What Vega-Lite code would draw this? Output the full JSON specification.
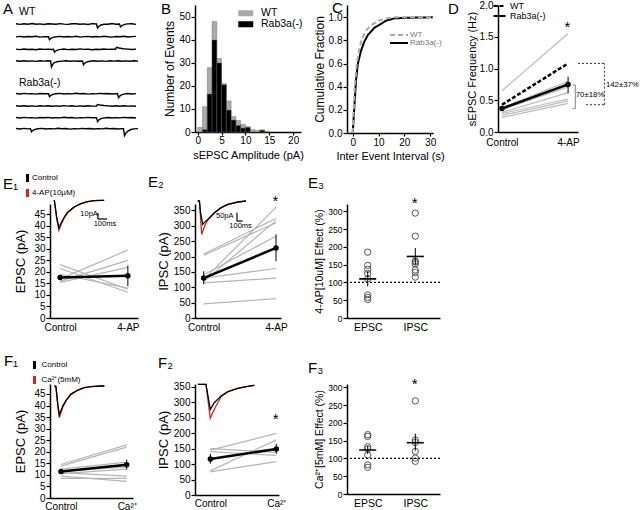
{
"$schema": "https://vega.github.io/schema/vega-lite/v6.json",
"padding": {"left": 2, "top": 0, "right": 2, "bottom": 2},
"background": "white",
"bounds": "flush",
"align": "each",
"spacing": 0,
"columns": 8,
"config": {
  "font": "Liberation Sans",
  "view": {"stroke": null},
  "axis": {"grid": false, "domainColor": "#000", "domainWidth": 1.5, "tickColor": "#000", "tickWidth": 1.2, "tickSize": 4, "labelColor": "#000", "labelFontSize": 10, "labelFont": "Liberation Sans", "titleFont": "Liberation Sans", "titleFontWeight": "normal", "titleColor": "#000", "titleFontSize": 12, "labelPadding": 1, "titlePadding": 3, "labelFlush": false, "labelOverlap": false},
  "legend": {"labelFont": "Liberation Sans", "labelColor": "#000", "padding": 0},
  "text": {"font": "Liberation Sans"}
},
"resolve": {"scale": {"color": "independent", "strokeDash": "independent"}, "legend": {"color": "independent", "strokeDash": "independent"}},
"concat": [
  {
   "width": 34, "height": 130,
   "layer": [
    {"data": {"values": [
{"s":"w1","t":0,"v":0.3},{"s":"w1","t":4,"v":-0.4},{"s":"w1","t":8,"v":0.2},{"s":"w1","t":12,"v":-0.2},{"s":"w1","t":16,"v":0.5},{"s":"w1","t":20,"v":-0.3},{"s":"w1","t":24,"v":0.1},{"s":"w1","t":28,"v":-0.5},{"s":"w1","t":32,"v":0.3},{"s":"w1","t":36,"v":0},{"s":"w1","t":40,"v":-0.3},{"s":"w1","t":44,"v":0.4},{"s":"w1","t":48,"v":-0.1},{"s":"w1","t":52,"v":-0.4},{"s":"w1","t":56,"v":0.2},{"s":"w1","t":60,"v":0.3},{"s":"w1","t":64,"v":-0.2},{"s":"w1","t":68,"v":0.1},{"s":"w1","t":72,"v":-0.5},{"s":"w1","t":76,"v":0.4},{"s":"w1","t":80.5,"v":0},{"s":"w1","t":81.5,"v":-4},{"s":"w1","t":83,"v":-2.2},{"s":"w1","t":85,"v":-1},{"s":"w1","t":88,"v":-0.2},{"s":"w1","t":92,"v":-0.3},{"s":"w1","t":96,"v":0.5},{"s":"w1","t":100,"v":-0.2},{"s":"w1","t":103.5,"v":0},{"s":"w1","t":104.5,"v":-3},{"s":"w1","t":106,"v":-1.6},{"s":"w1","t":108,"v":-0.7},{"s":"w1","t":111,"v":0.1},{"s":"w1","t":116,"v":0.3},{"s":"w1","t":120,"v":-0.4},
{"s":"w2","t":0,"v":-12.9},{"s":"w2","t":4,"v":-12.4},{"s":"w2","t":8,"v":-13},{"s":"w2","t":12,"v":-12.5},{"s":"w2","t":16,"v":-12.8},{"s":"w2","t":20,"v":-12.3},{"s":"w2","t":24,"v":-13.1},{"s":"w2","t":28,"v":-12.6},{"s":"w2","t":32.5,"v":-12.7},{"s":"w2","t":33.5,"v":-15.7},{"s":"w2","t":35,"v":-14.3},{"s":"w2","t":37,"v":-13.4},{"s":"w2","t":40,"v":-12.8},{"s":"w2","t":44,"v":-12.4},{"s":"w2","t":48,"v":-13},{"s":"w2","t":52,"v":-12.5},{"s":"w2","t":56,"v":-12.9},{"s":"w2","t":60,"v":-12.3},{"s":"w2","t":64,"v":-13.1},{"s":"w2","t":68,"v":-12.6},{"s":"w2","t":72,"v":-12.4},{"s":"w2","t":76,"v":-13},{"s":"w2","t":80,"v":-12.5},{"s":"w2","t":84,"v":-12.9},{"s":"w2","t":88,"v":-12.2},{"s":"w2","t":92,"v":-12.8},{"s":"w2","t":96,"v":-13.1},{"s":"w2","t":100,"v":-12.5},{"s":"w2","t":104,"v":-12.7},{"s":"w2","t":108,"v":-12.3},{"s":"w2","t":112,"v":-13},{"s":"w2","t":116,"v":-12.6},{"s":"w2","t":120,"v":-12.4},
{"s":"w3","t":0,"v":-25.1},{"s":"w3","t":4,"v":-25.6},{"s":"w3","t":8,"v":-25},{"s":"w3","t":12,"v":-25.5},{"s":"w3","t":16,"v":-25.2},{"s":"w3","t":20,"v":-25.7},{"s":"w3","t":24,"v":-25},{"s":"w3","t":28,"v":-25.4},{"s":"w3","t":32,"v":-25.1},{"s":"w3","t":36,"v":-25.5},{"s":"w3","t":37.5,"v":-25.3},{"s":"w3","t":38.5,"v":-28.3},{"s":"w3","t":40,"v":-26.8},{"s":"w3","t":42,"v":-25.9},{"s":"w3","t":45,"v":-25.4},{"s":"w3","t":48,"v":-25},{"s":"w3","t":52,"v":-25.6},{"s":"w3","t":56,"v":-25.2},{"s":"w3","t":60,"v":-25.5},{"s":"w3","t":64,"v":-24.9},{"s":"w3","t":68,"v":-25.4},{"s":"w3","t":72,"v":-25.1},{"s":"w3","t":76,"v":-25.7},{"s":"w3","t":80,"v":-25.2},{"s":"w3","t":84,"v":-25.5},{"s":"w3","t":88,"v":-25},{"s":"w3","t":92,"v":-25.4},{"s":"w3","t":96,"v":-25.2},{"s":"w3","t":99.5,"v":-25.3},{"s":"w3","t":100.5,"v":-23.3},{"s":"w3","t":103,"v":-24},{"s":"w3","t":107,"v":-24.7},{"s":"w3","t":112,"v":-25.1},{"s":"w3","t":116,"v":-25.5},{"s":"w3","t":120,"v":-25.1},
{"s":"w4","t":0,"v":-36.8},{"s":"w4","t":4,"v":-37.3},{"s":"w4","t":8,"v":-36.7},{"s":"w4","t":12,"v":-37.2},{"s":"w4","t":16,"v":-36.9},{"s":"w4","t":20,"v":-37.4},{"s":"w4","t":24,"v":-36.8},{"s":"w4","t":28,"v":-37.1},{"s":"w4","t":32,"v":-36.7},{"s":"w4","t":34.5,"v":-37},{"s":"w4","t":35.5,"v":-43},{"s":"w4","t":37,"v":-40},{"s":"w4","t":39,"v":-38.3},{"s":"w4","t":42,"v":-37.5},{"s":"w4","t":46,"v":-37.1},{"s":"w4","t":50,"v":-36.7},{"s":"w4","t":54,"v":-37.3},{"s":"w4","t":58,"v":-36.9},{"s":"w4","t":62,"v":-37.2},{"s":"w4","t":66.5,"v":-37},{"s":"w4","t":67.5,"v":-41},{"s":"w4","t":69,"v":-39},{"s":"w4","t":71,"v":-37.9},{"s":"w4","t":74,"v":-37.2},{"s":"w4","t":78,"v":-36.8},{"s":"w4","t":82,"v":-37.3},{"s":"w4","t":86,"v":-36.9},{"s":"w4","t":90,"v":-37.4},{"s":"w4","t":94,"v":-36.8},{"s":"w4","t":98,"v":-37.1},{"s":"w4","t":102,"v":-36.7},{"s":"w4","t":106,"v":-37.3},{"s":"w4","t":110,"v":-36.9},{"s":"w4","t":114,"v":-37.2},{"s":"w4","t":118,"v":-36.8},{"s":"w4","t":122,"v":-37.1},
{"s":"r1","t":0,"v":-69.5},{"s":"r1","t":4,"v":-70},{"s":"r1","t":8,"v":-69.4},{"s":"r1","t":12,"v":-69.9},{"s":"r1","t":16,"v":-69.6},{"s":"r1","t":20,"v":-70.1},{"s":"r1","t":24,"v":-69.5},{"s":"r1","t":28,"v":-69.8},{"s":"r1","t":32.5,"v":-69.7},{"s":"r1","t":33.5,"v":-72.7},{"s":"r1","t":35,"v":-71.3},{"s":"r1","t":37,"v":-70.4},{"s":"r1","t":40,"v":-69.8},{"s":"r1","t":44,"v":-69.4},{"s":"r1","t":48,"v":-70},{"s":"r1","t":52,"v":-69.6},{"s":"r1","t":56,"v":-69.9},{"s":"r1","t":60,"v":-69.3},{"s":"r1","t":64,"v":-69.8},{"s":"r1","t":68,"v":-69.5},{"s":"r1","t":72,"v":-70.1},{"s":"r1","t":76,"v":-69.6},{"s":"r1","t":80,"v":-69.9},{"s":"r1","t":84,"v":-69.4},{"s":"r1","t":88,"v":-69.8},{"s":"r1","t":92,"v":-69.5},{"s":"r1","t":96,"v":-70},{"s":"r1","t":100,"v":-69.6},{"s":"r1","t":101.5,"v":-69.7},{"s":"r1","t":102.5,"v":-73.7},{"s":"r1","t":104,"v":-71.8},{"s":"r1","t":106,"v":-70.6},{"s":"r1","t":109,"v":-69.9},{"s":"r1","t":112,"v":-69.5},{"s":"r1","t":116,"v":-70},{"s":"r1","t":120,"v":-69.6},
{"s":"r2","t":0,"v":-81.8},{"s":"r2","t":4,"v":-82.3},{"s":"r2","t":8,"v":-81.7},{"s":"r2","t":12,"v":-82.2},{"s":"r2","t":16,"v":-81.9},{"s":"r2","t":20,"v":-82.4},{"s":"r2","t":24,"v":-81.8},{"s":"r2","t":28,"v":-82.1},{"s":"r2","t":32,"v":-81.7},{"s":"r2","t":36,"v":-82.3},{"s":"r2","t":40,"v":-81.9},{"s":"r2","t":44,"v":-82.2},{"s":"r2","t":48,"v":-81.6},{"s":"r2","t":52,"v":-82.1},{"s":"r2","t":56,"v":-81.8},{"s":"r2","t":60,"v":-82.4},{"s":"r2","t":64,"v":-81.9},{"s":"r2","t":68,"v":-82.2},{"s":"r2","t":72,"v":-81.7},{"s":"r2","t":76,"v":-82.1},{"s":"r2","t":80.5,"v":-82},{"s":"r2","t":81.5,"v":-80.5},{"s":"r2","t":84,"v":-81},{"s":"r2","t":88,"v":-81.5},{"s":"r2","t":92,"v":-81.9},{"s":"r2","t":96,"v":-82.3},{"s":"r2","t":100,"v":-81.8},{"s":"r2","t":104,"v":-82.2},{"s":"r2","t":108,"v":-81.7},{"s":"r2","t":112,"v":-82.1},{"s":"r2","t":116,"v":-81.9},{"s":"r2","t":120,"v":-82.3},
{"s":"r3","t":0,"v":-93.5},{"s":"r3","t":4,"v":-94},{"s":"r3","t":8,"v":-93.4},{"s":"r3","t":12,"v":-93.9},{"s":"r3","t":16,"v":-93.6},{"s":"r3","t":20,"v":-94.1},{"s":"r3","t":24,"v":-93.5},{"s":"r3","t":28,"v":-93.8},{"s":"r3","t":32,"v":-93.4},{"s":"r3","t":36,"v":-94},{"s":"r3","t":40,"v":-93.6},{"s":"r3","t":44,"v":-93.9},{"s":"r3","t":48,"v":-93.3},{"s":"r3","t":52,"v":-93.8},{"s":"r3","t":56,"v":-93.5},{"s":"r3","t":60,"v":-94.1},{"s":"r3","t":64,"v":-93.6},{"s":"r3","t":68,"v":-93.9},{"s":"r3","t":72,"v":-93.4},{"s":"r3","t":76,"v":-93.8},{"s":"r3","t":80.5,"v":-93.7},{"s":"r3","t":81.5,"v":-97.7},{"s":"r3","t":83,"v":-95.8},{"s":"r3","t":85,"v":-94.6},{"s":"r3","t":88,"v":-93.9},{"s":"r3","t":92,"v":-93.5},{"s":"r3","t":96,"v":-94},{"s":"r3","t":100,"v":-93.6},{"s":"r3","t":104,"v":-93.9},{"s":"r3","t":108,"v":-93.4},{"s":"r3","t":112,"v":-93.8},{"s":"r3","t":116,"v":-93.5},{"s":"r3","t":120,"v":-94},
{"s":"r4","t":0,"v":-104.5},{"s":"r4","t":4,"v":-105},{"s":"r4","t":8,"v":-104.4},{"s":"r4","t":12,"v":-104.9},{"s":"r4","t":14.5,"v":-104.7},{"s":"r4","t":15.5,"v":-107.7},{"s":"r4","t":17,"v":-106.3},{"s":"r4","t":19,"v":-105.4},{"s":"r4","t":22,"v":-104.8},{"s":"r4","t":26,"v":-104.4},{"s":"r4","t":30,"v":-105},{"s":"r4","t":34,"v":-104.6},{"s":"r4","t":38,"v":-104.9},{"s":"r4","t":42,"v":-104.3},{"s":"r4","t":46,"v":-104.8},{"s":"r4","t":50,"v":-104.5},{"s":"r4","t":54,"v":-105.1},{"s":"r4","t":58,"v":-104.6},{"s":"r4","t":62,"v":-104.9},{"s":"r4","t":66,"v":-104.4},{"s":"r4","t":70,"v":-104.8},{"s":"r4","t":74,"v":-104.5},{"s":"r4","t":78,"v":-105},{"s":"r4","t":82,"v":-104.6},{"s":"r4","t":86,"v":-104.9},{"s":"r4","t":90,"v":-104.3},{"s":"r4","t":94,"v":-104.8},{"s":"r4","t":98,"v":-104.5},{"s":"r4","t":102,"v":-105},{"s":"r4","t":106,"v":-104.6},{"s":"r4","t":107.5,"v":-104.7},{"s":"r4","t":108.5,"v":-111.7},{"s":"r4","t":110,"v":-109},{"s":"r4","t":112,"v":-107},{"s":"r4","t":115,"v":-105.5},{"s":"r4","t":118,"v":-104.9},{"s":"r4","t":122,"v":-104.6}
    ]},
     "mark": {"type": "line", "color": "#000", "strokeWidth": 1.4},
     "encoding": {
       "x": {"field": "t", "type": "quantitative", "scale": {"domain": [0, 34], "nice": false, "zero": false}, "axis": null},
       "y": {"field": "v", "type": "quantitative", "scale": {"domain": [-111, 19], "nice": false, "zero": false}, "axis": null},
       "detail": {"field": "s", "type": "nominal"}}},
    {"data": {"values": [{"t": 3, "v": 12, "label": "WT"}, {"t": 3, "v": -59, "label": "Rab3a(-)"}]},
     "mark": {"type": "text", "align": "left", "baseline": "middle", "fontSize": 10.5, "color": "#000"},
     "encoding": {"x": {"field": "t", "type": "quantitative", "axis": null}, "y": {"field": "v", "type": "quantitative", "axis": null}, "text": {"field": "label"}}},
    {"data": {"values": [{"t": -13, "v": 10, "label": "A"}]},
     "mark": {"type": "text", "align": "left", "baseline": "alphabetic", "fontSize": 15, "color": "#000"},
     "encoding": {"x": {"field": "t", "type": "quantitative", "axis": null}, "y": {"field": "v", "type": "quantitative", "axis": null}, "text": {"field": "label"}}}
   ]
  },
  {"width": 1, "height": 1, "data": {"values": []}, "mark": "point", "encoding": {}},
  {"width": 57, "height": 1, "data": {"values": []}, "mark": "point", "encoding": {}},
  {
   "width": 106, "height": 127,
   "layer": [
    {"data": {"values": [
{"b":0,"b2":1,"g":"WT","n":2},{"b":1,"b2":2,"g":"WT","n":11},{"b":2,"b2":3,"g":"WT","n":28},{"b":3,"b2":4,"g":"WT","n":48},{"b":4,"b2":5,"g":"WT","n":32},{"b":5,"b2":6,"g":"WT","n":21},{"b":6,"b2":7,"g":"WT","n":13.5},{"b":7,"b2":8,"g":"WT","n":6.7},{"b":8,"b2":9,"g":"WT","n":5},{"b":9,"b2":10,"g":"WT","n":3.3},{"b":10,"b2":11,"g":"WT","n":2.3},{"b":11,"b2":12,"g":"WT","n":1},{"b":12,"b2":13,"g":"WT","n":0.7},{"b":13,"b2":14,"g":"WT","n":1},{"b":14,"b2":15,"g":"WT","n":0.4},
{"b":1,"b2":2,"g":"Rab3a(-)","n":1},{"b":2,"b2":3,"g":"Rab3a(-)","n":16.5},{"b":3,"b2":4,"g":"Rab3a(-)","n":40},{"b":4,"b2":5,"g":"Rab3a(-)","n":30},{"b":5,"b2":6,"g":"Rab3a(-)","n":20.5},{"b":6,"b2":7,"g":"Rab3a(-)","n":9.5},{"b":7,"b2":8,"g":"Rab3a(-)","n":5.2},{"b":8,"b2":9,"g":"Rab3a(-)","n":2.8},{"b":9,"b2":10,"g":"Rab3a(-)","n":1.7},{"b":10,"b2":11,"g":"Rab3a(-)","n":2},{"b":13,"b2":14,"g":"Rab3a(-)","n":0.7}
     ]},
     "mark": {"type": "bar", "stroke": "#666", "strokeWidth": 0.4},
     "encoding": {
       "x": {"field": "b", "type": "quantitative", "scale": {"domain": [-0.57, 21.65], "nice": false, "zero": false}, "axis": {"values": [0, 5, 10, 15, 20], "title": "sEPSC Amplitude (pA)", "titleFontSize": 11, "tickSize": 3, "labelPadding": 0, "titlePadding": 4, "labelOverlap": false}},
       "x2": {"field": "b2"},
       "y": {"field": "n", "type": "quantitative", "stack": null, "scale": {"domain": [0, 55.2], "nice": false}, "axis": {"values": [0, 10, 20, 30, 40, 50], "title": "Number of Events", "titlePadding": 2, "labelOverlap": false}},
       "y2": {"datum": 0},
       "color": {"field": "g", "type": "nominal", "scale": {"domain": ["WT", "Rab3a(-)"], "range": ["#aaaaaa", "#000000"]}, "legend": {"title": null, "orient": "none", "legendX": 45.5, "legendY": 3, "symbolType": "M-2.5,-1H2.5V1H-2.5Z", "symbolSize": 36, "symbolStrokeWidth": 0, "labelFontSize": 10.5, "labelOffset": 10, "rowPadding": 0}}
     }},
    {"data": {"values": [{"b": -7.69, "n": 51.3, "label": "B"}]},
     "mark": {"type": "text", "align": "left", "baseline": "alphabetic", "fontSize": 15, "color": "#000"},
     "encoding": {
       "x": {"field": "b", "type": "quantitative", "axis": {"values": [0, 5, 10, 15, 20], "title": "sEPSC Amplitude (pA)", "titleFontSize": 11, "tickSize": 3, "labelPadding": 0, "titlePadding": 4, "labelOverlap": false}},
       "y": {"field": "n", "type": "quantitative", "axis": {"values": [0, 10, 20, 30, 40, 50], "title": "Number of Events", "titlePadding": 2, "labelOverlap": false}},
       "text": {"field": "label"}}}
   ]
  },
  {"width": 46, "height": 1, "data": {"values": []}, "mark": "point", "encoding": {}},
  {
   "width": 86, "height": 128,
   "layer": [
    {"data": {"values": [
{"g":"Rab3a(-)","x":0,"y":0},{"g":"Rab3a(-)","x":0.3,"y":0.1},{"g":"Rab3a(-)","x":0.7,"y":0.25},{"g":"Rab3a(-)","x":1.3,"y":0.46},{"g":"Rab3a(-)","x":2,"y":0.6},{"g":"Rab3a(-)","x":3.2,"y":0.71},{"g":"Rab3a(-)","x":4.5,"y":0.79},{"g":"Rab3a(-)","x":6,"y":0.85},{"g":"Rab3a(-)","x":8.4,"y":0.91},{"g":"Rab3a(-)","x":10,"y":0.93},{"g":"Rab3a(-)","x":12.9,"y":0.97},{"g":"Rab3a(-)","x":16,"y":0.99},{"g":"Rab3a(-)","x":20,"y":0.995},{"g":"Rab3a(-)","x":31,"y":1},
{"g":"WT","x":0,"y":0},{"g":"WT","x":0.3,"y":0.15},{"g":"WT","x":0.8,"y":0.4},{"g":"WT","x":1.5,"y":0.58},{"g":"WT","x":2.5,"y":0.72},{"g":"WT","x":3.5,"y":0.81},{"g":"WT","x":5,"y":0.88},{"g":"WT","x":7,"y":0.93},{"g":"WT","x":10,"y":0.97},{"g":"WT","x":13,"y":0.99},{"g":"WT","x":16,"y":1},{"g":"WT","x":31,"y":1}
     ]},
     "mark": {"type": "line", "strokeWidth": 2},
     "encoding": {
       "x": {"field": "x", "type": "quantitative", "scale": {"domain": [-2.21, 31.1], "nice": false, "zero": false}, "axis": {"values": [0, 10, 20, 30], "title": "Inter Event Interval (s)", "titleFontSize": 11, "tickSize": 3, "labelPadding": 1, "titlePadding": 3, "labelOverlap": false}},
       "y": {"field": "y", "type": "quantitative", "scale": {"domain": [0, 1.106], "nice": false}, "axis": {"values": [0, 0.2, 0.4, 0.6, 0.8, 1], "format": ".1f", "title": "Cumulative Fraction", "titlePadding": 2, "labelOverlap": false}},
       "color": {"field": "g", "type": "nominal", "scale": {"domain": ["WT", "Rab3a(-)"], "range": ["#aaaaaa", "#000000"]}, "legend": {"title": null, "orient": "none", "legendX": 48, "legendY": 26, "symbolType": "M-3,0H3", "symbolSize": 36, "symbolStrokeWidth": 2, "labelFontSize": 8, "labelColor": "#777", "labelOffset": 7, "rowPadding": 0}},
       "strokeDash": {"field": "g", "type": "nominal", "scale": {"domain": ["WT", "Rab3a(-)"], "range": [[5, 3], [1, 0]]}, "legend": {"title": null, "orient": "none", "legendX": 48, "legendY": 26, "symbolType": "M-3,0H3", "symbolSize": 36, "symbolStrokeWidth": 2, "labelFontSize": 8, "labelColor": "#777", "labelOffset": 7, "rowPadding": 0}}
     }},
    {"data": {"values": [{"x": -8.0, "y": 1.04, "label": "C"}]},
     "mark": {"type": "text", "align": "left", "baseline": "alphabetic", "fontSize": 15, "color": "#000"},
     "encoding": {
       "x": {"field": "x", "type": "quantitative", "axis": {"values": [0, 10, 20, 30], "title": "Inter Event Interval (s)", "titleFontSize": 11, "tickSize": 3, "labelPadding": 1, "titlePadding": 3, "labelOverlap": false}},
       "y": {"field": "y", "type": "quantitative", "axis": {"values": [0, 0.2, 0.4, 0.6, 0.8, 1], "format": ".1f", "title": "Cumulative Fraction", "titlePadding": 2, "labelOverlap": false}},
       "text": {"field": "label"}}}
   ]
  },
  {"width": 58, "height": 1, "data": {"values": []}, "mark": "point", "encoding": {}},
  {
   "width": 80, "height": 127,
   "layer": [
    {"data": {"values": [
{"c":1,"x":0,"y":0.65},{"c":1,"x":1,"y":1.55},{"c":2,"x":0,"y":0.38},{"c":2,"x":1,"y":0.8},{"c":3,"x":0,"y":0.35},{"c":3,"x":1,"y":0.71},{"c":4,"x":0,"y":0.31},{"c":4,"x":1,"y":0.62},{"c":5,"x":0,"y":0.29},{"c":5,"x":1,"y":0.52},{"c":6,"x":0,"y":0.26},{"c":6,"x":1,"y":0.49},{"c":7,"x":0,"y":0.23},{"c":7,"x":1,"y":0.45}
     ]},
     "mark": {"type": "line", "color": "#bbbbbb", "strokeWidth": 1.2},
     "encoding": {
       "x": {"field": "x", "type": "quantitative", "scale": {"domain": [-0.06, 1.15], "nice": false, "zero": false}, "axis": {"values": [0, 1], "labelExpr": "datum.value == 0 ? 'Control' : '4-AP'", "ticks": false, "title": null, "labelPadding": 5, "labelOverlap": false}},
       "y": {"field": "y", "type": "quantitative", "scale": {"domain": [0, 2], "nice": false}, "axis": {"values": [0, 0.5, 1, 1.5, 2], "format": ".1f", "title": "sEPSC Frequency (Hz)", "titleFontSize": 11, "titlePadding": 2, "labelOverlap": false}},
       "detail": {"field": "c", "type": "nominal"}}},
    {"data": {"values": [{"g":"WT","x":0,"y":0.43},{"g":"WT","x":1,"y":1.08},{"g":"Rab3a(-)","x":0,"y":0.37},{"g":"Rab3a(-)","x":1,"y":0.75}]},
     "mark": {"type": "line", "color": "#000", "strokeWidth": 2.5},
     "encoding": {
       "x": {"field": "x", "type": "quantitative", "axis": {"values": [0, 1], "labelExpr": "datum.value == 0 ? 'Control' : '4-AP'", "ticks": false, "title": null, "labelPadding": 5, "labelOverlap": false}},
       "y": {"field": "y", "type": "quantitative", "axis": {"values": [0, 0.5, 1, 1.5, 2], "format": ".1f", "title": "sEPSC Frequency (Hz)", "titleFontSize": 11, "titlePadding": 2, "labelOverlap": false}},
       "strokeDash": {"field": "g", "type": "nominal", "scale": {"domain": ["WT", "Rab3a(-)"], "range": [[4, 2], [1, 0]]}, "legend": {"title": null, "orient": "none", "legendX": -3, "legendY": -3.5, "symbolType": "M-2,0H2", "symbolSize": 36, "symbolStrokeWidth": 2, "symbolStrokeColor": "#000", "labelFontSize": 9, "labelOffset": 6, "rowPadding": 0}}}},
    {"data": {"values": [{"x":0,"lo":0.34,"hi":0.4},{"x":1,"lo":0.61,"hi":0.87}]},
     "mark": {"type": "rule", "color": "#000", "strokeWidth": 1},
     "encoding": {
       "x": {"field": "x", "type": "quantitative", "axis": {"values": [0, 1], "labelExpr": "datum.value == 0 ? 'Control' : '4-AP'", "ticks": false, "title": null, "labelPadding": 5, "labelOverlap": false}},
       "y": {"field": "lo", "type": "quantitative", "axis": {"values": [0, 0.5, 1, 1.5, 2], "format": ".1f", "title": "sEPSC Frequency (Hz)", "titleFontSize": 11, "titlePadding": 2, "labelOverlap": false}},
       "y2": {"field": "hi"}}},
    {"data": {"values": [{"x":0,"y":0.37},{"x":1,"y":0.75}]},
     "mark": {"type": "point", "filled": true, "color": "#000", "size": 30, "opacity": 1},
     "encoding": {
       "x": {"field": "x", "type": "quantitative", "axis": {"values": [0, 1], "labelExpr": "datum.value == 0 ? 'Control' : '4-AP'", "ticks": false, "title": null, "labelPadding": 5, "labelOverlap": false}},
       "y": {"field": "y", "type": "quantitative", "axis": {"values": [0, 0.5, 1, 1.5, 2], "format": ".1f", "title": "sEPSC Frequency (Hz)", "titleFontSize": 11, "titlePadding": 2, "labelOverlap": false}}}},
    {"data": {"values": [{"x":1.07,"x2":1.11,"y":0.74,"y2":0.74},{"x":1.11,"x2":1.11,"y":0.37,"y2":0.74},{"x":1.07,"x2":1.11,"y":0.37,"y2":0.37}]},
     "mark": {"type": "rule", "color": "#999", "strokeWidth": 1.2},
     "encoding": {
       "x": {"field": "x", "type": "quantitative", "axis": {"values": [0, 1], "labelExpr": "datum.value == 0 ? 'Control' : '4-AP'", "ticks": false, "title": null, "labelPadding": 5, "labelOverlap": false}},
       "x2": {"field": "x2"},
       "y": {"field": "y", "type": "quantitative", "axis": {"values": [0, 0.5, 1, 1.5, 2], "format": ".1f", "title": "sEPSC Frequency (Hz)", "titleFontSize": 11, "titlePadding": 2, "labelOverlap": false}},
       "y2": {"field": "y2"}}},
    {"data": {"values": [{"x":1.15,"x2":1.55,"y":1.08,"y2":1.08},{"x":1.55,"x2":1.55,"y":0.43,"y2":1.08},{"x":1.27,"x2":1.55,"y":0.43,"y2":0.43}]},
     "mark": {"type": "rule", "color": "#333", "strokeWidth": 1, "strokeDash": [2, 2]},
     "encoding": {
       "x": {"field": "x", "type": "quantitative", "axis": {"values": [0, 1], "labelExpr": "datum.value == 0 ? 'Control' : '4-AP'", "ticks": false, "title": null, "labelPadding": 5, "labelOverlap": false}},
       "x2": {"field": "x2"},
       "y": {"field": "y", "type": "quantitative", "axis": {"values": [0, 0.5, 1, 1.5, 2], "format": ".1f", "title": "sEPSC Frequency (Hz)", "titleFontSize": 11, "titlePadding": 2, "labelOverlap": false}},
       "y2": {"field": "y2"}}},
    {"data": {"values": [{"x":1.116,"y":0.58,"label":"70±18%"},{"x":1.572,"y":0.74,"label":"142±37%"}]},
     "mark": {"type": "text", "align": "left", "baseline": "middle", "fontSize": 7.8, "color": "#000"},
     "encoding": {
       "x": {"field": "x", "type": "quantitative", "axis": {"values": [0, 1], "labelExpr": "datum.value == 0 ? 'Control' : '4-AP'", "ticks": false, "title": null, "labelPadding": 5, "labelOverlap": false}},
       "y": {"field": "y", "type": "quantitative", "axis": {"values": [0, 0.5, 1, 1.5, 2], "format": ".1f", "title": "sEPSC Frequency (Hz)", "titleFontSize": 11, "titlePadding": 2, "labelOverlap": false}},
       "text": {"field": "label"}}},
    {"data": {"values": [{"x":0.947,"y":1.567,"label":"*"},{"x":-0.818,"y":1.858,"label":"D"}]},
     "mark": {"type": "text", "align": "left", "baseline": "alphabetic", "fontSize": 15, "color": "#000"},
     "encoding": {
       "x": {"field": "x", "type": "quantitative", "axis": {"values": [0, 1], "labelExpr": "datum.value == 0 ? 'Control' : '4-AP'", "ticks": false, "title": null, "labelPadding": 5, "labelOverlap": false}},
       "y": {"field": "y", "type": "quantitative", "axis": {"values": [0, 0.5, 1, 1.5, 2], "format": ".1f", "title": "sEPSC Frequency (Hz)", "titleFontSize": 11, "titlePadding": 2, "labelOverlap": false}},
       "text": {"field": "label"}}}
   ]
  },

  {"width": 1, "height": 69, "data": {"values": []}, "mark": "point", "encoding": {}},
  {"width": 1, "height": 1, "data": {"values": []}, "mark": "point", "encoding": {}},
  {"width": 1, "height": 1, "data": {"values": []}, "mark": "point", "encoding": {}},
  {"width": 1, "height": 1, "data": {"values": []}, "mark": "point", "encoding": {}},
  {"width": 1, "height": 1, "data": {"values": []}, "mark": "point", "encoding": {}},
  {"width": 1, "height": 1, "data": {"values": []}, "mark": "point", "encoding": {}},
  {"width": 1, "height": 1, "data": {"values": []}, "mark": "point", "encoding": {}},
  {"width": 1, "height": 1, "data": {"values": []}, "mark": "point", "encoding": {}},

  {"width": 1, "height": 1, "data": {"values": []}, "mark": "point", "encoding": {}},
  {
   "width": 88, "height": 114,
   "layer": [
    {"layer": [
      {"data": {"values": [{"c":1,"x":0,"y":23.2},{"c":1,"x":1,"y":12.5},{"c":2,"x":0,"y":21.5},{"c":2,"x":1,"y":11.2},{"c":3,"x":0,"y":19},{"c":3,"x":1,"y":13},{"c":4,"x":0,"y":17},{"c":4,"x":1,"y":29.5},{"c":5,"x":0,"y":16},{"c":5,"x":1,"y":25},{"c":6,"x":0,"y":15.5},{"c":6,"x":1,"y":22}]},
       "mark": {"type": "line", "color": "#b5b5b5", "strokeWidth": 1.2},
       "encoding": {
         "x": {"field": "x", "type": "quantitative", "scale": {"domain": [-0.15, 1.15], "nice": false, "zero": false}, "axis": {"values": [0, 1], "labelExpr": "datum.value == 0 ? 'Control' : '4-AP'", "ticks": false, "title": null, "labelPadding": 4, "labelOverlap": false}},
         "y": {"field": "y", "type": "quantitative", "scale": {"domain": [0, 49.5], "nice": false}, "axis": {"values": [0, 5, 10, 15, 20, 25, 30, 35, 40, 45], "title": "EPSC (pA)", "titleFontSize": 13, "titlePadding": 6, "labelOverlap": false}},
         "detail": {"field": "c", "type": "nominal"}}},
      {"data": {"values": [{"x":0,"y":17.6},{"x":1,"y":18.3}]},
       "mark": {"type": "line", "color": "#000", "strokeWidth": 2.5},
       "encoding": {
         "x": {"field": "x", "type": "quantitative", "axis": {"values": [0, 1], "labelExpr": "datum.value == 0 ? 'Control' : '4-AP'", "ticks": false, "title": null, "labelPadding": 4, "labelOverlap": false}},
         "y": {"field": "y", "type": "quantitative", "axis": {"values": [0, 5, 10, 15, 20, 25, 30, 35, 40, 45], "title": "EPSC (pA)", "titleFontSize": 13, "titlePadding": 6, "labelOverlap": false}}}},
      {"data": {"values": [{"x":0,"lo":16.6,"hi":18.6},{"x":1,"lo":13.8,"hi":22.8}]},
       "mark": {"type": "rule", "color": "#000", "strokeWidth": 1},
       "encoding": {
         "x": {"field": "x", "type": "quantitative", "axis": {"values": [0, 1], "labelExpr": "datum.value == 0 ? 'Control' : '4-AP'", "ticks": false, "title": null, "labelPadding": 4, "labelOverlap": false}},
         "y": {"field": "lo", "type": "quantitative", "axis": {"values": [0, 5, 10, 15, 20, 25, 30, 35, 40, 45], "title": "EPSC (pA)", "titleFontSize": 13, "titlePadding": 6, "labelOverlap": false}},
         "y2": {"field": "hi"}}},
      {"data": {"values": [{"x":0,"y":17.6},{"x":1,"y":18.3}]},
       "mark": {"type": "point", "filled": true, "color": "#000", "size": 30, "opacity": 1},
       "encoding": {
         "x": {"field": "x", "type": "quantitative", "axis": {"values": [0, 1], "labelExpr": "datum.value == 0 ? 'Control' : '4-AP'", "ticks": false, "title": null, "labelPadding": 4, "labelOverlap": false}},
         "y": {"field": "y", "type": "quantitative", "axis": {"values": [0, 5, 10, 15, 20, 25, 30, 35, 40, 45], "title": "EPSC (pA)", "titleFontSize": 13, "titlePadding": 6, "labelOverlap": false}}}},
      {"data": {"values": [{"x": -0.845, "y": 56.0, "label": "E₁"}]},
       "mark": {"type": "text", "align": "left", "baseline": "alphabetic", "fontSize": 15, "color": "#000"},
       "encoding": {
         "x": {"field": "x", "type": "quantitative", "axis": {"values": [0, 1], "labelExpr": "datum.value == 0 ? 'Control' : '4-AP'", "ticks": false, "title": null, "labelPadding": 4, "labelOverlap": false}},
         "y": {"field": "y", "type": "quantitative", "axis": {"values": [0, 5, 10, 15, 20, 25, 30, 35, 40, 45], "title": "EPSC (pA)", "titleFontSize": 13, "titlePadding": 6, "labelOverlap": false}},
         "text": {"field": "label"}}}
    ]},
    {"layer": [
      {"data": {"values": [
{"cond":"4-AP(10µM)","t":0,"i":0},{"cond":"4-AP(10µM)","t":6,"i":-2},{"cond":"4-AP(10µM)","t":30,"i":-30},{"cond":"4-AP(10µM)","t":55,"i":-50},{"cond":"4-AP(10µM)","t":75,"i":-42},{"cond":"4-AP(10µM)","t":115,"i":-29},{"cond":"4-AP(10µM)","t":152,"i":-20.7},{"cond":"4-AP(10µM)","t":226,"i":-11.2},{"cond":"4-AP(10µM)","t":300,"i":-5.7},{"cond":"4-AP(10µM)","t":374,"i":-2.3},{"cond":"4-AP(10µM)","t":448,"i":-0.7},{"cond":"4-AP(10µM)","t":522,"i":0},{"cond":"4-AP(10µM)","t":558,"i":0},
{"cond":"Control","t":0,"i":0},{"cond":"Control","t":6,"i":-2},{"cond":"Control","t":30,"i":-28},{"cond":"Control","t":55,"i":-46},{"cond":"Control","t":75,"i":-39},{"cond":"Control","t":115,"i":-28},{"cond":"Control","t":152,"i":-20},{"cond":"Control","t":226,"i":-11},{"cond":"Control","t":300,"i":-5.5},{"cond":"Control","t":374,"i":-2.2},{"cond":"Control","t":448,"i":-0.7},{"cond":"Control","t":522,"i":0},{"cond":"Control","t":558,"i":0}
       ]},
       "mark": {"type": "line", "strokeWidth": 1.3},
       "encoding": {
         "x": {"field": "t", "type": "quantitative", "scale": {"domain": [-44, 934], "nice": false, "zero": false}, "axis": null},
         "y": {"field": "i", "type": "quantitative", "scale": {"domain": [-196.2, -6.2], "nice": false, "zero": false}, "axis": null},
         "color": {"field": "cond", "type": "nominal", "scale": {"domain": ["Control", "4-AP(10µM)"], "range": ["#000000", "#dd2222"]}, "legend": {"title": null, "orient": "none", "legendX": -27, "legendY": -30.5, "symbolType": "M0,-1.33V1.33", "symbolSize": 36, "symbolStrokeWidth": 3, "labelFontSize": 8, "labelOffset": 0, "rowPadding": -6}}}},
      {"data": {"values": [{"t":489,"t2":489,"i":-31.2,"i2":-21.2},{"t":489,"t2":589,"i":-31.2,"i2":-31.2}]},
       "mark": {"type": "rule", "color": "#000", "strokeWidth": 1.2},
       "encoding": {"x": {"field": "t", "type": "quantitative", "axis": null}, "x2": {"field": "t2"}, "y": {"field": "i", "type": "quantitative", "axis": null}, "y2": {"field": "i2"}}},
      {"data": {"values": [{"t":293,"i":-23.4,"label":"10pA"},{"t":441,"i":-40,"label":"100ms"}]},
       "mark": {"type": "text", "align": "left", "baseline": "middle", "fontSize": 7.5, "color": "#000"},
       "encoding": {"x": {"field": "t", "type": "quantitative", "axis": null}, "y": {"field": "i", "type": "quantitative", "axis": null}, "text": {"field": "label"}}}
    ]}
   ],
   "resolve": {"scale": {"x": "independent", "y": "independent"}}
  },
  {"width": 1, "height": 1, "data": {"values": []}, "mark": "point", "encoding": {}},
  {
   "width": 86, "height": 114,
   "layer": [
    {"layer": [
      {"data": {"values": [{"c":1,"x":0,"y":208},{"c":1,"x":1,"y":324},{"c":2,"x":0,"y":204},{"c":2,"x":1,"y":310},{"c":3,"x":0,"y":125},{"c":3,"x":1,"y":360},{"c":4,"x":0,"y":119},{"c":4,"x":1,"y":317},{"c":5,"x":0,"y":141},{"c":5,"x":1,"y":266},{"c":6,"x":0,"y":130},{"c":6,"x":1,"y":161},{"c":7,"x":0,"y":114},{"c":7,"x":1,"y":130},{"c":8,"x":0,"y":46},{"c":8,"x":1,"y":63}]},
       "mark": {"type": "line", "color": "#b5b5b5", "strokeWidth": 1.2},
       "encoding": {
         "x": {"field": "x", "type": "quantitative", "scale": {"domain": [-0.12, 1.069], "nice": false, "zero": false}, "axis": {"values": [0, 1], "labelExpr": "datum.value == 0 ? 'Control' : '4-AP'", "ticks": false, "title": null, "labelPadding": 4, "labelOverlap": false}},
         "y": {"field": "y", "type": "quantitative", "scale": {"domain": [0, 371], "nice": false}, "axis": {"values": [0, 50, 100, 150, 200, 250, 300, 350], "title": "IPSC (pA)", "titleFontSize": 13, "titlePadding": 3, "labelOverlap": false}},
         "detail": {"field": "c", "type": "nominal"}}},
      {"data": {"values": [{"x":0,"y":130},{"x":1,"y":228}]},
       "mark": {"type": "line", "color": "#000", "strokeWidth": 2.5},
       "encoding": {
         "x": {"field": "x", "type": "quantitative", "axis": {"values": [0, 1], "labelExpr": "datum.value == 0 ? 'Control' : '4-AP'", "ticks": false, "title": null, "labelPadding": 4, "labelOverlap": false}},
         "y": {"field": "y", "type": "quantitative", "axis": {"values": [0, 50, 100, 150, 200, 250, 300, 350], "title": "IPSC (pA)", "titleFontSize": 13, "titlePadding": 3, "labelOverlap": false}}}},
      {"data": {"values": [{"x":0,"lo":110,"hi":152},{"x":1,"lo":185,"hi":272}]},
       "mark": {"type": "rule", "color": "#000", "strokeWidth": 1},
       "encoding": {
         "x": {"field": "x", "type": "quantitative", "axis": {"values": [0, 1], "labelExpr": "datum.value == 0 ? 'Control' : '4-AP'", "ticks": false, "title": null, "labelPadding": 4, "labelOverlap": false}},
         "y": {"field": "lo", "type": "quantitative", "axis": {"values": [0, 50, 100, 150, 200, 250, 300, 350], "title": "IPSC (pA)", "titleFontSize": 13, "titlePadding": 3, "labelOverlap": false}},
         "y2": {"field": "hi"}}},
      {"data": {"values": [{"x":0,"y":130},{"x":1,"y":228}]},
       "mark": {"type": "point", "filled": true, "color": "#000", "size": 30, "opacity": 1},
       "encoding": {
         "x": {"field": "x", "type": "quantitative", "axis": {"values": [0, 1], "labelExpr": "datum.value == 0 ? 'Control' : '4-AP'", "ticks": false, "title": null, "labelPadding": 4, "labelOverlap": false}},
         "y": {"field": "y", "type": "quantitative", "axis": {"values": [0, 50, 100, 150, 200, 250, 300, 350], "title": "IPSC (pA)", "titleFontSize": 13, "titlePadding": 3, "labelOverlap": false}}}},
      {"data": {"values": [{"x":0.952,"y":366,"label":"*"},{"x":-0.77,"y":426.7,"label":"E₂"}]},
       "mark": {"type": "text", "align": "left", "baseline": "alphabetic", "fontSize": 15, "color": "#000"},
       "encoding": {
         "x": {"field": "x", "type": "quantitative", "axis": {"values": [0, 1], "labelExpr": "datum.value == 0 ? 'Control' : '4-AP'", "ticks": false, "title": null, "labelPadding": 4, "labelOverlap": false}},
         "y": {"field": "y", "type": "quantitative", "axis": {"values": [0, 50, 100, 150, 200, 250, 300, 350], "title": "IPSC (pA)", "titleFontSize": 13, "titlePadding": 3, "labelOverlap": false}},
         "text": {"field": "label"}}}
    ]},
    {"layer": [
      {"data": {"values": [
{"cond":"4-AP","t":0,"i":0},{"cond":"4-AP","t":30,"i":0},{"cond":"4-AP","t":50,"i":-100},{"cond":"4-AP","t":70,"i":-200},{"cond":"4-AP","t":120,"i":-150},{"cond":"4-AP","t":175,"i":-115},{"cond":"4-AP","t":291,"i":-72},{"cond":"4-AP","t":409,"i":-42},{"cond":"4-AP","t":526,"i":-22},{"cond":"4-AP","t":702,"i":-7},{"cond":"4-AP","t":847,"i":0},
{"cond":"Control","t":0,"i":0},{"cond":"Control","t":30,"i":0},{"cond":"Control","t":50,"i":-70},{"cond":"Control","t":88,"i":-140},{"cond":"Control","t":120,"i":-128},{"cond":"Control","t":175,"i":-110},{"cond":"Control","t":291,"i":-70},{"cond":"Control","t":409,"i":-40},{"cond":"Control","t":526,"i":-20},{"cond":"Control","t":702,"i":-6},{"cond":"Control","t":847,"i":0}
       ]},
       "mark": {"type": "line", "strokeWidth": 1.3},
       "encoding": {
         "x": {"field": "t", "type": "quantitative", "scale": {"domain": [-47.4, 1461.4], "nice": false, "zero": false}, "axis": null},
         "y": {"field": "i", "type": "quantitative", "scale": {"domain": [-700.6, -18], "nice": false, "zero": false}, "axis": null},
         "color": {"field": "cond", "type": "nominal", "scale": {"domain": ["Control", "4-AP"], "range": ["#000000", "#dd2222"]}, "legend": null}}},
      {"data": {"values": [{"t":689,"t2":689,"i":-120,"i2":-70},{"t":689,"t2":789,"i":-120,"i2":-120}]},
       "mark": {"type": "rule", "color": "#000", "strokeWidth": 1.2},
       "encoding": {"x": {"field": "t", "type": "quantitative", "axis": null}, "x2": {"field": "t2"}, "y": {"field": "i", "type": "quantitative", "axis": null}, "y2": {"field": "i2"}}},
      {"data": {"values": [{"t":321,"i":-90,"label":"50pA"},{"t":555,"i":-150,"label":"100ms"}]},
       "mark": {"type": "text", "align": "left", "baseline": "middle", "fontSize": 7.5, "color": "#000"},
       "encoding": {"x": {"field": "t", "type": "quantitative", "axis": null}, "y": {"field": "i", "type": "quantitative", "axis": null}, "text": {"field": "label"}}}
    ]}
   ],
   "resolve": {"scale": {"x": "independent", "y": "independent"}}
  },
  {"width": 1, "height": 1, "data": {"values": []}, "mark": "point", "encoding": {}},
  {
   "width": 93, "height": 114,
   "layer": [
    {"data": {"values": [{"x":0,"y":185},{"x":0,"y":148},{"x":0,"y":137},{"x":0,"y":125},{"x":0,"y":110},{"x":0,"y":65},{"x":0,"y":58},{"x":0,"y":52},{"x":1,"y":295},{"x":1,"y":230},{"x":1,"y":160},{"x":1,"y":157},{"x":1,"y":152},{"x":1,"y":135},{"x":1,"y":128},{"x":1,"y":115}]},
     "mark": {"type": "point", "shape": "circle", "filled": false, "color": "#555", "size": 40, "strokeWidth": 1, "opacity": 1},
     "encoding": {
       "x": {"field": "x", "type": "quantitative", "scale": {"domain": [-0.435, 1.519], "nice": false, "zero": false}, "axis": {"values": [0, 1], "labelExpr": "datum.value == 0 ? 'EPSC' : 'IPSC'", "ticks": false, "title": null, "labelPadding": 4, "labelFontSize": 10.5, "labelOverlap": false}},
       "y": {"field": "y", "type": "quantitative", "scale": {"domain": [0, 320.5], "nice": false}, "axis": {"values": [0, 50, 100, 150, 200, 250, 300], "title": "4-AP[10uM] Effect (%)", "titleFontSize": 10.5, "labelFontSize": 8.5, "titlePadding": 3, "labelOverlap": false}}}},
    {"data": {"values": [{"y":100}]},
     "mark": {"type": "rule", "color": "#000", "strokeWidth": 1.2, "strokeDash": [2, 2]},
     "encoding": {"y": {"field": "y", "type": "quantitative", "axis": {"values": [0, 50, 100, 150, 200, 250, 300], "title": "4-AP[10uM] Effect (%)", "titleFontSize": 10.5, "labelFontSize": 8.5, "titlePadding": 3, "labelOverlap": false}}}},
    {"data": {"values": [{"x":0,"lo":89,"hi":131},{"x":1,"lo":150,"hi":197}]},
     "mark": {"type": "rule", "color": "#000", "strokeWidth": 1},
     "encoding": {
       "x": {"field": "x", "type": "quantitative", "axis": {"values": [0, 1], "labelExpr": "datum.value == 0 ? 'EPSC' : 'IPSC'", "ticks": false, "title": null, "labelPadding": 4, "labelFontSize": 10.5, "labelOverlap": false}},
       "y": {"field": "lo", "type": "quantitative", "axis": {"values": [0, 50, 100, 150, 200, 250, 300], "title": "4-AP[10uM] Effect (%)", "titleFontSize": 10.5, "labelFontSize": 8.5, "titlePadding": 3, "labelOverlap": false}},
       "y2": {"field": "hi"}}},
    {"data": {"values": [{"x":0,"y":110},{"x":1,"y":173}]},
     "mark": {"type": "tick", "orient": "horizontal", "color": "#000", "size": 17, "thickness": 1.6, "opacity": 1},
     "encoding": {
       "x": {"field": "x", "type": "quantitative", "axis": {"values": [0, 1], "labelExpr": "datum.value == 0 ? 'EPSC' : 'IPSC'", "ticks": false, "title": null, "labelPadding": 4, "labelFontSize": 10.5, "labelOverlap": false}},
       "y": {"field": "y", "type": "quantitative", "axis": {"values": [0, 50, 100, 150, 200, 250, 300], "title": "4-AP[10uM] Effect (%)", "titleFontSize": 10.5, "labelFontSize": 8.5, "titlePadding": 3, "labelOverlap": false}}}},
    {"data": {"values": [{"x":0.926,"y":310,"label":"*"},{"x":-1.254,"y":365.5,"label":"E₃"}]},
     "mark": {"type": "text", "align": "left", "baseline": "alphabetic", "fontSize": 15, "color": "#000"},
     "encoding": {
       "x": {"field": "x", "type": "quantitative", "axis": {"values": [0, 1], "labelExpr": "datum.value == 0 ? 'EPSC' : 'IPSC'", "ticks": false, "title": null, "labelPadding": 4, "labelFontSize": 10.5, "labelOverlap": false}},
       "y": {"field": "y", "type": "quantitative", "axis": {"values": [0, 50, 100, 150, 200, 250, 300], "title": "4-AP[10uM] Effect (%)", "titleFontSize": 10.5, "labelFontSize": 8.5, "titlePadding": 3, "labelOverlap": false}},
       "text": {"field": "label"}}}
   ]
  },
  {"width": 1, "height": 1, "data": {"values": []}, "mark": "point", "encoding": {}},
  {"width": 1, "height": 1, "data": {"values": []}, "mark": "point", "encoding": {}},

  {"width": 1, "height": 66, "data": {"values": []}, "mark": "point", "encoding": {}},
  {"width": 1, "height": 1, "data": {"values": []}, "mark": "point", "encoding": {}},
  {"width": 1, "height": 1, "data": {"values": []}, "mark": "point", "encoding": {}},
  {"width": 1, "height": 1, "data": {"values": []}, "mark": "point", "encoding": {}},
  {"width": 1, "height": 1, "data": {"values": []}, "mark": "point", "encoding": {}},
  {"width": 1, "height": 1, "data": {"values": []}, "mark": "point", "encoding": {}},
  {"width": 1, "height": 1, "data": {"values": []}, "mark": "point", "encoding": {}},
  {"width": 1, "height": 1, "data": {"values": []}, "mark": "point", "encoding": {}},

  {"width": 1, "height": 1, "data": {"values": []}, "mark": "point", "encoding": {}},
  {
   "width": 83, "height": 114,
   "layer": [
    {"layer": [
      {"data": {"values": [{"c":1,"x":0,"y":14.5},{"c":1,"x":1,"y":23},{"c":2,"x":0,"y":13.8},{"c":2,"x":1,"y":22},{"c":3,"x":0,"y":12.5},{"c":3,"x":1,"y":15.5},{"c":4,"x":0,"y":11.5},{"c":4,"x":1,"y":13.5},{"c":5,"x":0,"y":10.5},{"c":5,"x":1,"y":12.5},{"c":6,"x":0,"y":11},{"c":6,"x":1,"y":9.5},{"c":7,"x":0,"y":9.5},{"c":7,"x":1,"y":7.2},{"c":8,"x":0,"y":8.5},{"c":8,"x":1,"y":8.5}]},
       "mark": {"type": "line", "color": "#b5b5b5", "strokeWidth": 1.2},
       "encoding": {
         "x": {"field": "x", "type": "quantitative", "scale": {"domain": [-0.167, 1.096], "nice": false, "zero": false}, "axis": {"values": [0, 1], "labelExpr": "datum.value == 0 ? 'Control' : 'Ca²⁺'", "ticks": false, "title": null, "labelPadding": 3, "labelOverlap": false}},
         "y": {"field": "y", "type": "quantitative", "scale": {"domain": [0, 49.3], "nice": false}, "axis": {"values": [0, 5, 10, 15, 20, 25, 30, 35, 40, 45], "title": "EPSC (pA)", "titleFontSize": 13, "titlePadding": 6, "labelOverlap": false}},
         "detail": {"field": "c", "type": "nominal"}}},
      {"data": {"values": [{"x":0,"y":11.5},{"x":1,"y":14.4}]},
       "mark": {"type": "line", "color": "#000", "strokeWidth": 2.5},
       "encoding": {
         "x": {"field": "x", "type": "quantitative", "axis": {"values": [0, 1], "labelExpr": "datum.value == 0 ? 'Control' : 'Ca²⁺'", "ticks": false, "title": null, "labelPadding": 3, "labelOverlap": false}},
         "y": {"field": "y", "type": "quantitative", "axis": {"values": [0, 5, 10, 15, 20, 25, 30, 35, 40, 45], "title": "EPSC (pA)", "titleFontSize": 13, "titlePadding": 6, "labelOverlap": false}}}},
      {"data": {"values": [{"x":0,"lo":10.8,"hi":12.2},{"x":1,"lo":12.3,"hi":16.6}]},
       "mark": {"type": "rule", "color": "#000", "strokeWidth": 1},
       "encoding": {
         "x": {"field": "x", "type": "quantitative", "axis": {"values": [0, 1], "labelExpr": "datum.value == 0 ? 'Control' : 'Ca²⁺'", "ticks": false, "title": null, "labelPadding": 3, "labelOverlap": false}},
         "y": {"field": "lo", "type": "quantitative", "axis": {"values": [0, 5, 10, 15, 20, 25, 30, 35, 40, 45], "title": "EPSC (pA)", "titleFontSize": 13, "titlePadding": 6, "labelOverlap": false}},
         "y2": {"field": "hi"}}},
      {"data": {"values": [{"x":0,"y":11.5},{"x":1,"y":14.4}]},
       "mark": {"type": "point", "filled": true, "color": "#000", "size": 30, "opacity": 1},
       "encoding": {
         "x": {"field": "x", "type": "quantitative", "axis": {"values": [0, 1], "labelExpr": "datum.value == 0 ? 'Control' : 'Ca²⁺'", "ticks": false, "title": null, "labelPadding": 3, "labelOverlap": false}},
         "y": {"field": "y", "type": "quantitative", "axis": {"values": [0, 5, 10, 15, 20, 25, 30, 35, 40, 45], "title": "EPSC (pA)", "titleFontSize": 13, "titlePadding": 6, "labelOverlap": false}}}},
      {"data": {"values": [{"x": -0.868, "y": 57.1, "label": "F₁"}]},
       "mark": {"type": "text", "align": "left", "baseline": "alphabetic", "fontSize": 15, "color": "#000"},
       "encoding": {
         "x": {"field": "x", "type": "quantitative", "axis": {"values": [0, 1], "labelExpr": "datum.value == 0 ? 'Control' : 'Ca²⁺'", "ticks": false, "title": null, "labelPadding": 3, "labelOverlap": false}},
         "y": {"field": "y", "type": "quantitative", "axis": {"values": [0, 5, 10, 15, 20, 25, 30, 35, 40, 45], "title": "EPSC (pA)", "titleFontSize": 13, "titlePadding": 6, "labelOverlap": false}},
         "text": {"field": "label"}}}
    ]},
    {"layer": [
      {"data": {"values": [
{"cond":"Ca²⁺(5mM)","t":0,"i":0},{"cond":"Ca²⁺(5mM)","t":18,"i":-1},{"cond":"Ca²⁺(5mM)","t":40,"i":-35},{"cond":"Ca²⁺(5mM)","t":56,"i":-52.8},{"cond":"Ca²⁺(5mM)","t":93,"i":-36},{"cond":"Ca²⁺(5mM)","t":130,"i":-25},{"cond":"Ca²⁺(5mM)","t":185,"i":-13.9},{"cond":"Ca²⁺(5mM)","t":260,"i":-7.2},{"cond":"Ca²⁺(5mM)","t":333,"i":-2.8},{"cond":"Ca²⁺(5mM)","t":407,"i":-1.2},{"cond":"Ca²⁺(5mM)","t":519,"i":0},{"cond":"Ca²⁺(5mM)","t":556,"i":0},
{"cond":"Control","t":0,"i":0},{"cond":"Control","t":18,"i":-1},{"cond":"Control","t":40,"i":-32},{"cond":"Control","t":56,"i":-48},{"cond":"Control","t":93,"i":-34},{"cond":"Control","t":130,"i":-24},{"cond":"Control","t":185,"i":-13.5},{"cond":"Control","t":260,"i":-7},{"cond":"Control","t":333,"i":-2.7},{"cond":"Control","t":407,"i":-1.2},{"cond":"Control","t":519,"i":0},{"cond":"Control","t":556,"i":0}
       ]},
       "mark": {"type": "line", "strokeWidth": 1.3},
       "encoding": {
         "x": {"field": "t", "type": "quantitative", "scale": {"domain": [-47.8, 874.5], "nice": false, "zero": false}, "axis": null},
         "y": {"field": "i", "type": "quantitative", "scale": {"domain": [-186.7, 3.3], "nice": false, "zero": false}, "axis": null},
         "color": {"field": "cond", "type": "nominal", "scale": {"domain": ["Control", "Ca²⁺(5mM)"], "range": ["#000000", "#dd2222"]}, "legend": {"title": null, "orient": "none", "legendX": -20, "legendY": -23.5, "symbolType": "M0,-1.33V1.33", "symbolSize": 36, "symbolStrokeWidth": 3, "labelFontSize": 8, "labelOffset": 2.5, "rowPadding": -6}}}}
    ]}
   ],
   "resolve": {"scale": {"x": "independent", "y": "independent"}}
  },
  {"width": 1, "height": 1, "data": {"values": []}, "mark": "point", "encoding": {}},
  {
   "width": 84, "height": 111,
   "layer": [
    {"layer": [
      {"data": {"values": [{"c":1,"x":0,"y":145},{"c":1,"x":1,"y":199},{"c":2,"x":0,"y":150},{"c":2,"x":1,"y":138},{"c":3,"x":0,"y":140},{"c":3,"x":1,"y":128},{"c":4,"x":0,"y":78},{"c":4,"x":1,"y":178},{"c":5,"x":0,"y":75},{"c":5,"x":1,"y":108}]},
       "mark": {"type": "line", "color": "#b5b5b5", "strokeWidth": 1.2},
       "encoding": {
         "x": {"field": "x", "type": "quantitative", "scale": {"domain": [-0.233, 1.041], "nice": false, "zero": false}, "axis": {"values": [0, 1], "labelExpr": "datum.value == 0 ? 'Control' : 'Ca²⁺'", "ticks": false, "title": null, "labelPadding": 3, "labelOverlap": false}},
         "y": {"field": "y", "type": "quantitative", "scale": {"domain": [0, 358.6], "nice": false}, "axis": {"values": [0, 50, 100, 150, 200, 250, 300, 350], "title": "IPSC (pA)", "titleFontSize": 13, "titlePadding": 3, "labelOverlap": false}},
         "detail": {"field": "c", "type": "nominal"}}},
      {"data": {"values": [{"x":0,"y":116.5},{"x":1,"y":148.6}]},
       "mark": {"type": "line", "color": "#000", "strokeWidth": 2.5},
       "encoding": {
         "x": {"field": "x", "type": "quantitative", "axis": {"values": [0, 1], "labelExpr": "datum.value == 0 ? 'Control' : 'Ca²⁺'", "ticks": false, "title": null, "labelPadding": 3, "labelOverlap": false}},
         "y": {"field": "y", "type": "quantitative", "axis": {"values": [0, 50, 100, 150, 200, 250, 300, 350], "title": "IPSC (pA)", "titleFontSize": 13, "titlePadding": 3, "labelOverlap": false}}}},
      {"data": {"values": [{"x":0,"lo":101,"hi":133},{"x":1,"lo":133,"hi":165}]},
       "mark": {"type": "rule", "color": "#000", "strokeWidth": 1},
       "encoding": {
         "x": {"field": "x", "type": "quantitative", "axis": {"values": [0, 1], "labelExpr": "datum.value == 0 ? 'Control' : 'Ca²⁺'", "ticks": false, "title": null, "labelPadding": 3, "labelOverlap": false}},
         "y": {"field": "lo", "type": "quantitative", "axis": {"values": [0, 50, 100, 150, 200, 250, 300, 350], "title": "IPSC (pA)", "titleFontSize": 13, "titlePadding": 3, "labelOverlap": false}},
         "y2": {"field": "hi"}}},
      {"data": {"values": [{"x":0,"y":116.5},{"x":1,"y":148.6}]},
       "mark": {"type": "point", "filled": true, "color": "#000", "size": 30, "opacity": 1},
       "encoding": {
         "x": {"field": "x", "type": "quantitative", "axis": {"values": [0, 1], "labelExpr": "datum.value == 0 ? 'Control' : 'Ca²⁺'", "ticks": false, "title": null, "labelPadding": 3, "labelOverlap": false}},
         "y": {"field": "y", "type": "quantitative", "axis": {"values": [0, 50, 100, 150, 200, 250, 300, 350], "title": "IPSC (pA)", "titleFontSize": 13, "titlePadding": 3, "labelOverlap": false}}}},
      {"data": {"values": [{"x":0.947,"y":228,"label":"*"},{"x":-0.794,"y":410.3,"label":"F₂"}]},
       "mark": {"type": "text", "align": "left", "baseline": "alphabetic", "fontSize": 15, "color": "#000"},
       "encoding": {
         "x": {"field": "x", "type": "quantitative", "axis": {"values": [0, 1], "labelExpr": "datum.value == 0 ? 'Control' : 'Ca²⁺'", "ticks": false, "title": null, "labelPadding": 3, "labelOverlap": false}},
         "y": {"field": "y", "type": "quantitative", "axis": {"values": [0, 50, 100, 150, 200, 250, 300, 350], "title": "IPSC (pA)", "titleFontSize": 13, "titlePadding": 3, "labelOverlap": false}},
         "text": {"field": "label"}}}
    ]},
    {"layer": [
      {"data": {"values": [
{"cond":"Ca","t":0,"i":0},{"cond":"Ca","t":140,"i":0},{"cond":"Ca","t":216,"i":-204},{"cond":"Ca","t":258,"i":-170},{"cond":"Ca","t":316,"i":-130},{"cond":"Ca","t":404,"i":-75},{"cond":"Ca","t":521,"i":-46},{"cond":"Ca","t":696,"i":-25},{"cond":"Ca","t":872,"i":-12},{"cond":"Ca","t":988,"i":-5},
{"cond":"Control","t":0,"i":0},{"cond":"Control","t":140,"i":0},{"cond":"Control","t":216,"i":-150},{"cond":"Control","t":286,"i":-110},{"cond":"Control","t":404,"i":-70},{"cond":"Control","t":521,"i":-44},{"cond":"Control","t":696,"i":-24},{"cond":"Control","t":872,"i":-12},{"cond":"Control","t":988,"i":-6}
       ]},
       "mark": {"type": "line", "strokeWidth": 1.3},
       "encoding": {
         "x": {"field": "t", "type": "quantitative", "scale": {"domain": [-52.6, 1421], "nice": false, "zero": false}, "axis": null},
         "y": {"field": "i", "type": "quantitative", "scale": {"domain": [-662.9, 1.8], "nice": false, "zero": false}, "axis": null},
         "color": {"field": "cond", "type": "nominal", "scale": {"domain": ["Control", "Ca"], "range": ["#000000", "#dd2222"]}, "legend": null}}}
    ]}
   ],
   "resolve": {"scale": {"x": "independent", "y": "independent"}}
  },
  {"width": 1, "height": 1, "data": {"values": []}, "mark": "point", "encoding": {}},
  {
   "width": 93, "height": 110,
   "layer": [
    {"data": {"values": [{"x":0,"y":167},{"x":0,"y":162},{"x":0,"y":133},{"x":0,"y":127},{"x":0,"y":110},{"x":0,"y":82},{"x":0,"y":75},{"x":1,"y":262},{"x":1,"y":152},{"x":1,"y":145},{"x":1,"y":120},{"x":1,"y":101},{"x":1,"y":92}]},
     "mark": {"type": "point", "shape": "circle", "filled": false, "color": "#555", "size": 40, "strokeWidth": 1, "opacity": 1},
     "encoding": {
       "x": {"field": "x", "type": "quantitative", "scale": {"domain": [-0.435, 1.519], "nice": false, "zero": false}, "axis": {"values": [0, 1], "labelExpr": "datum.value == 0 ? 'EPSC' : 'IPSC'", "ticks": false, "title": null, "labelPadding": 4, "labelFontSize": 10.5, "labelOverlap": false}},
       "y": {"field": "y", "type": "quantitative", "scale": {"domain": [0, 309.6], "nice": false}, "axis": {"values": [0, 50, 100, 150, 200, 250, 300], "title": "Ca²⁺[5mM] Effect (%)", "titleFontSize": 10.5, "labelFontSize": 8.5, "titlePadding": 3, "labelOverlap": false}}}},
    {"data": {"values": [{"y":100}]},
     "mark": {"type": "rule", "color": "#000", "strokeWidth": 1.2, "strokeDash": [2, 2]},
     "encoding": {"y": {"field": "y", "type": "quantitative", "axis": {"values": [0, 50, 100, 150, 200, 250, 300], "title": "Ca²⁺[5mM] Effect (%)", "titleFontSize": 10.5, "labelFontSize": 8.5, "titlePadding": 3, "labelOverlap": false}}}},
    {"data": {"values": [{"x":0,"lo":112.6,"hi":136},{"x":1,"lo":122,"hi":170}]},
     "mark": {"type": "rule", "color": "#000", "strokeWidth": 1},
     "encoding": {
       "x": {"field": "x", "type": "quantitative", "axis": {"values": [0, 1], "labelExpr": "datum.value == 0 ? 'EPSC' : 'IPSC'", "ticks": false, "title": null, "labelPadding": 4, "labelFontSize": 10.5, "labelOverlap": false}},
       "y": {"field": "lo", "type": "quantitative", "axis": {"values": [0, 50, 100, 150, 200, 250, 300], "title": "Ca²⁺[5mM] Effect (%)", "titleFontSize": 10.5, "labelFontSize": 8.5, "titlePadding": 3, "labelOverlap": false}},
       "y2": {"field": "hi"}}},
    {"data": {"values": [{"x":0,"y":124},{"x":1,"y":144.4}]},
     "mark": {"type": "tick", "orient": "horizontal", "color": "#000", "size": 17, "thickness": 1.6, "opacity": 1},
     "encoding": {
       "x": {"field": "x", "type": "quantitative", "axis": {"values": [0, 1], "labelExpr": "datum.value == 0 ? 'EPSC' : 'IPSC'", "ticks": false, "title": null, "labelPadding": 4, "labelFontSize": 10.5, "labelOverlap": false}},
       "y": {"field": "y", "type": "quantitative", "axis": {"values": [0, 50, 100, 150, 200, 250, 300], "title": "Ca²⁺[5mM] Effect (%)", "titleFontSize": 10.5, "labelFontSize": 8.5, "titlePadding": 3, "labelOverlap": false}}}},
    {"data": {"values": [{"x":0.926,"y":295,"label":"*"},{"x":-1.254,"y":340.6,"label":"F₃"}]},
     "mark": {"type": "text", "align": "left", "baseline": "alphabetic", "fontSize": 15, "color": "#000"},
     "encoding": {
       "x": {"field": "x", "type": "quantitative", "axis": {"values": [0, 1], "labelExpr": "datum.value == 0 ? 'EPSC' : 'IPSC'", "ticks": false, "title": null, "labelPadding": 4, "labelFontSize": 10.5, "labelOverlap": false}},
       "y": {"field": "y", "type": "quantitative", "axis": {"values": [0, 50, 100, 150, 200, 250, 300], "title": "Ca²⁺[5mM] Effect (%)", "titleFontSize": 10.5, "labelFontSize": 8.5, "titlePadding": 3, "labelOverlap": false}},
       "text": {"field": "label"}}}
   ]
  },
  {"width": 1, "height": 1, "data": {"values": []}, "mark": "point", "encoding": {}},
  {"width": 1, "height": 1, "data": {"values": []}, "mark": "point", "encoding": {}}
]
}
